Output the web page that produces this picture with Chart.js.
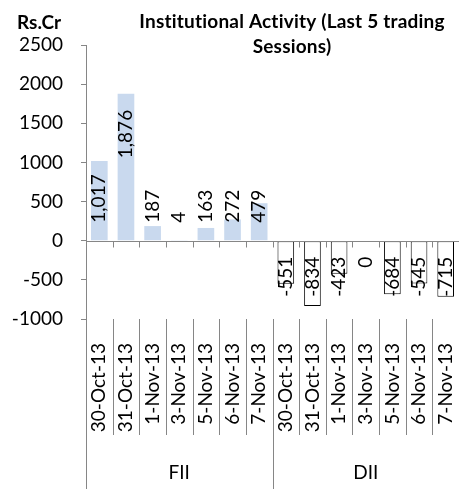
<!DOCTYPE html>
<html>
<head>
<meta charset="utf-8">
<title>Institutional Activity</title>
<script src="https://cdn.jsdelivr.net/npm/chart.js@4.4.1/dist/chart.umd.min.js"></script>
<style>
    html, body { margin: 0; padding: 0; background: #fff; }
    #wrap { width: 459px; height: 489px; }
</style>
</head>
<body>
<div id="wrap"><canvas id="flows-chart"></canvas></div>
<script>
// Data
const sessions = ['30-Oct-13', '31-Oct-13', '1-Nov-13', '3-Nov-13', '5-Nov-13', '6-Nov-13', '7-Nov-13'];
const groups = ['FII', 'DII'];
const fiiValues = [1017, 1876, 187, 4, 163, 272, 479];
const diiValues = [-551, -834, -423, 0, -684, -545, -715];
const yTicks = [-1000, -500, 0, 500, 1000, 1500, 2000, 2500];
const titleLines = ['Institutional Activity (Last 5 trading', 'Sessions)'];
const unitLabel = 'Rs.Cr';

const FONT = 'Lato, "Open Sans", sans-serif';
const FONT_SIZE = 19;
const AXIS_GREY = '#868686';

const labels = sessions.concat(sessions);
const fiiData = fiiValues.concat(sessions.map(() => null));
const diiData = sessions.map(() => null).concat(diiValues);

// boundary between categories i-1 and i
function boundary(x, i) {
    return Math.round(x.getPixelForValue(i - 0.5)) + 0.5;
}

const headings = {
    id: 'headings',
    afterDraw(chart) {
        const ctx = chart.ctx;
        ctx.save();
        ctx.fillStyle = '#000';
        ctx.font = 'bold ' + FONT_SIZE + 'px ' + FONT;
        ctx.textBaseline = 'middle';
        ctx.textAlign = 'left';
        ctx.fillText(unitLabel, 17, 23);
        // tiny spacing keeps Lato from joining "ti"
        ctx.letterSpacing = '0.2px';
        ctx.textAlign = 'center';
        ctx.fillText(titleLines[0], 292, 22);
        ctx.fillText(titleLines[1], 292, 47);
        ctx.restore();
    }
};

const zeroAxis = {
    id: 'zeroAxis',
    afterDatasetsDraw(chart) {
        const { ctx, chartArea, scales: { x, y } } = chart;
        const zeroY = Math.round(y.getPixelForValue(0)) + 0.5;
        ctx.save();
        ctx.strokeStyle = AXIS_GREY;
        ctx.lineWidth = 1;
        ctx.beginPath();
        ctx.moveTo(chartArea.left, zeroY);
        ctx.lineTo(chartArea.right, zeroY);
        for (let i = 1; i <= labels.length; i++) {
            const bx = boundary(x, i);
            ctx.moveTo(bx, zeroY);
            ctx.lineTo(bx, zeroY + 6);
        }
        ctx.stroke();
        ctx.restore();
    }
};

const categoryFrame = {
    id: 'categoryFrame',
    afterDraw(chart) {
        const { ctx, chartArea, scales: { x } } = chart;
        const top = chartArea.bottom;
        const per = sessions.length;
        ctx.save();
        ctx.strokeStyle = AXIS_GREY;
        ctx.lineWidth = 1;
        ctx.beginPath();
        for (let i = 0; i <= labels.length; i++) {
            const bx = boundary(x, i);
            ctx.moveTo(bx, top);
            ctx.lineTo(bx, i % per === 0 ? chart.height : top + 116);
        }
        ctx.stroke();
        ctx.fillStyle = '#000';
        ctx.font = FONT_SIZE + 'px ' + FONT;
        ctx.textAlign = 'center';
        ctx.textBaseline = 'middle';
        groups.forEach((g, k) => {
            const cx = (x.getPixelForValue(k * per - 0.5) + x.getPixelForValue((k + 1) * per - 0.5)) / 2;
            ctx.fillText(g, cx, 473);
        });
        ctx.restore();
    }
};

const valueLabels = {
    id: 'valueLabels',
    afterDatasetsDraw(chart) {
        const { ctx, scales: { y } } = chart;
        const zeroY = y.getPixelForValue(0);
        ctx.save();
        ctx.font = FONT_SIZE + 'px ' + FONT;
        ctx.fillStyle = '#000';
        ctx.textBaseline = 'middle';
        chart.data.datasets.forEach((ds, d) => {
            chart.getDatasetMeta(d).data.forEach((bar, i) => {
                const v = ds.data[i];
                if (v === null) return;
                const text = v.toLocaleString('en-US');
                const w = ctx.measureText(text).width;
                let anchorY;
                if (d === 0) {
                    anchorY = Math.min(zeroY - 18, bar.y + 16 + w);
                    ctx.textAlign = 'left';
                } else {
                    anchorY = zeroY + 16;
                    ctx.textAlign = 'right';
                }
                ctx.save();
                ctx.translate(bar.x, anchorY);
                ctx.rotate(-Math.PI / 2);
                ctx.fillText(text, 0, 0);
                ctx.restore();
            });
        });
        ctx.restore();
    }
};

const ctx = document.getElementById('flows-chart');
new Chart(ctx, {
    type: 'bar',
    data: {
        labels: labels,
        datasets: [{
            label: 'FII',
            data: fiiData,
            backgroundColor: '#c9d9ee',
            borderWidth: 0
        }, {
            label: 'DII',
            data: diiData,
            backgroundColor: '#ffffff',
            borderColor: '#000000',
            borderWidth: 1,
            borderSkipped: false
        }]
    },
    options: {
        responsive: true,
        maintainAspectRatio: false,
        animation: false,
        layout: { padding: { top: 45, right: 0, bottom: 0, left: 0 } },
        datasets: {
            bar: { grouped: false, barPercentage: 0.625, categoryPercentage: 1 }
        },
        plugins: {
            legend: { display: false },
            title: { display: false },
            tooltip: { enabled: false }
        },
        scales: {
            x: {
                afterFit: s => {
                    s.height = 170;
                    s.paddingLeft = 0;
                    s.paddingRight = 0;
                },
                grid: { display: false, drawTicks: false },
                border: { display: false },
                ticks: {
                    autoSkip: false,
                    minRotation: 90,
                    maxRotation: 90,
                    padding: 24,
                    color: '#000',
                    font: { family: FONT, size: FONT_SIZE }
                }
            },
            y: {
                min: -1000,
                max: 2500,
                afterFit: s => { s.width = 86; },
                afterBuildTicks: s => { s.ticks = yTicks.map(v => ({ value: v })); },
                grid: { drawOnChartArea: false, tickLength: 5, color: AXIS_GREY },
                border: { color: AXIS_GREY },
                ticks: {
                    padding: 18,
                    color: '#000',
                    font: { family: FONT, size: FONT_SIZE },
                    callback: v => String(v)
                }
            }
        }
    },
    plugins: [zeroAxis, valueLabels, categoryFrame, headings]
});
</script>
</body>
</html>
